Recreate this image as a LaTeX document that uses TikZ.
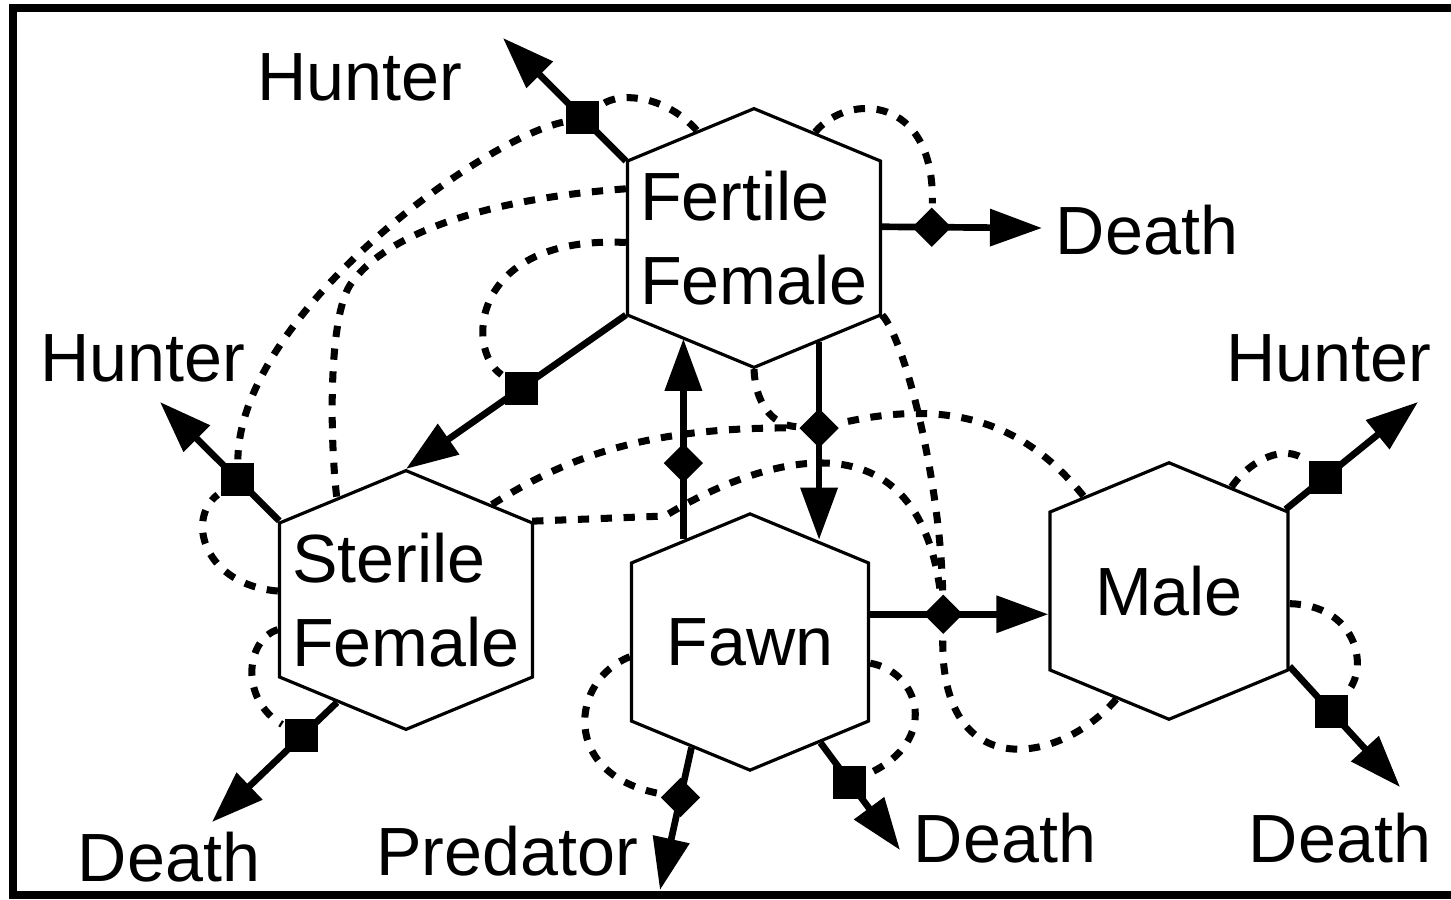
\documentclass[tikz,border=0pt]{standalone}
\usepackage{fontspec}
\setmainfont{Liberation Sans}
\usetikzlibrary{arrows.meta,shapes.geometric,shapes.symbols}

\begin{document}
\begin{tikzpicture}[x=0.01cm,y=-0.01cm,>={Triangle[length=0.52cm,width=0.36cm]},
  every node/.style={font=\fontsize{19.4}{24}\selectfont},
  stock/.style={draw,line width=0.9pt,signal,signal to=north and south,signal pointer angle=135,inner sep=0pt,align=left},
  flow/.style={->,line width=1.9pt},
  info/.style={line width=2pt,dash pattern=on 3.2pt off 3.3pt},
  sqvalve/.style={fill,rectangle,minimum size=0.33cm,inner sep=0pt},
  diavalve/.style={fill,diamond,minimum size=0.42cm,inner sep=0pt}]
  \useasboundingbox (0,0) rectangle (1451,899);
  \draw[line width=0.08cm] (1451,8) -- (13,8) -- (13,895) -- (1451,895);

  % stocks
  \node[stock,minimum width=2.53cm,minimum height=2.48cm] (fert) at (754,238) {Fertile\\Female};
  \node[stock,minimum width=2.53cm,minimum height=2.48cm] (ster) at (406,600) {Sterile\\Female};
  \node[stock,minimum width=2.37cm,minimum height=2.27cm] (fawn) at (750,642) {Fawn};
  \node[stock,minimum width=2.38cm,minimum height=2.19cm] (male) at (1169,591) {Male};

  % labels
  \node (hunt1) at (360,77) {Hunter};
  \node (death1) at (1147,230) {Death};
  \node (hunt2) at (143,358) {Hunter};
  \node (hunt3) at (1329,358) {Hunter};
  \node (death2) at (169,857) {Death};
  \node (pred) at (507,851) {Predator};
  \node (death3) at (1005,838) {Death};
  \node (death4) at (1340,838) {Death};

  \coordinate (tip1) at (503,38);
  \coordinate (tip2) at (1042,228);
  \coordinate (tip3) at (160,402);
  \coordinate (tip4) at (1418,402);
  \coordinate (tip5) at (212,822);
  \coordinate (tip6) at (660,890);
  \coordinate (tip7) at (900,850);
  \coordinate (tip8) at (1400,787);

  % flows
  \draw[flow] (fert.149) -- node[sqvalve,pos=.35] (vhf) {} (tip1);
  \draw[flow] (fert.5) -- node[diavalve,pos=.31] (vdf) {} (tip2);
  \draw[flow] (fert.211) -- node[sqvalve,pos=.475] (vst) {} (ster.north);
  \draw[flow] (fawn.123) -- node[diavalve,pos=.38] (vmf) {} (fawn.123 |- fert.234);
  \draw[flow] (fert.302) -- node[diavalve,pos=.435] (vbi) {} (fert.302 |- fawn.57);
  \draw[flow] (fawn.13) -- node[diavalve,pos=.41] (vmm) {} (fawn.13 -| male.west);
  \draw[flow] (ster.148) -- node[sqvalve,pos=.35] (vhs) {} (tip3);
  \draw[flow] (ster.236) -- node[sqvalve,pos=.28] (vds) {} (tip5);
  \draw[flow] (fawn.241) -- node[diavalve,pos=.35] (vpr) {} (tip6);
  \draw[flow] (fawn.305) -- node[sqvalve,pos=.37] (vdw) {} (tip7);
  \draw[flow] (male.35) -- node[sqvalve,pos=.3] (vhm) {} (tip4);
  \draw[flow] (male.328) -- node[sqvalve,pos=.375] (vdm) {} (tip8);

  % info links
  \draw[info] (fert.118) .. controls (665,95) and (620,92) .. (vhf);
  \draw[info] (fert.60) .. controls (848,92) and (935,95) .. (vdf);
  \draw[info] (vhf) .. controls (480,140) and (240,315) .. (vhs);
  \draw[info] (fert.159) .. controls (470,200) and (380,240) .. (350,285) .. controls (328,320) and (330,440) .. (ster.124);
  \draw[info] (fert.182) .. controls (470,235) and (465,350) .. (vst);
  \draw[info] (ster.48) .. controls (570,455) and (650,427) .. (vbi);
  \draw[info] (fert.south) .. controls (755,400) and (770,425) .. (vbi);
  \draw[info] (male.132) .. controls (1030,430) and (960,395) .. (vbi);
  \draw[info] (ster.32) -- (665,516) .. controls (740,470) and (915,395) .. (vmm);
  \draw[info] (fert.329) .. controls (905,340) and (940,480) .. (vmm);
  \draw[info] (male.244) .. controls (1060,765) and (940,785) .. (vmm);
  \draw[info] (fawn.350) .. controls (920,672) and (940,740) .. (vdw);
  \draw[info] (fawn.187) .. controls (570,680) and (560,775) .. (vpr);
  \draw[info] (ster.176) .. controls (205,585) and (185,520) .. (vhs);
  \draw[info] (ster.193) .. controls (245,640) and (240,700) .. (vds);
  \draw[info] (male.59) .. controls (1250,460) and (1285,443) .. (vhm);
  \draw[info] (male.354) .. controls (1355,605) and (1370,665) .. (vdm);
\end{tikzpicture}
\end{document}
